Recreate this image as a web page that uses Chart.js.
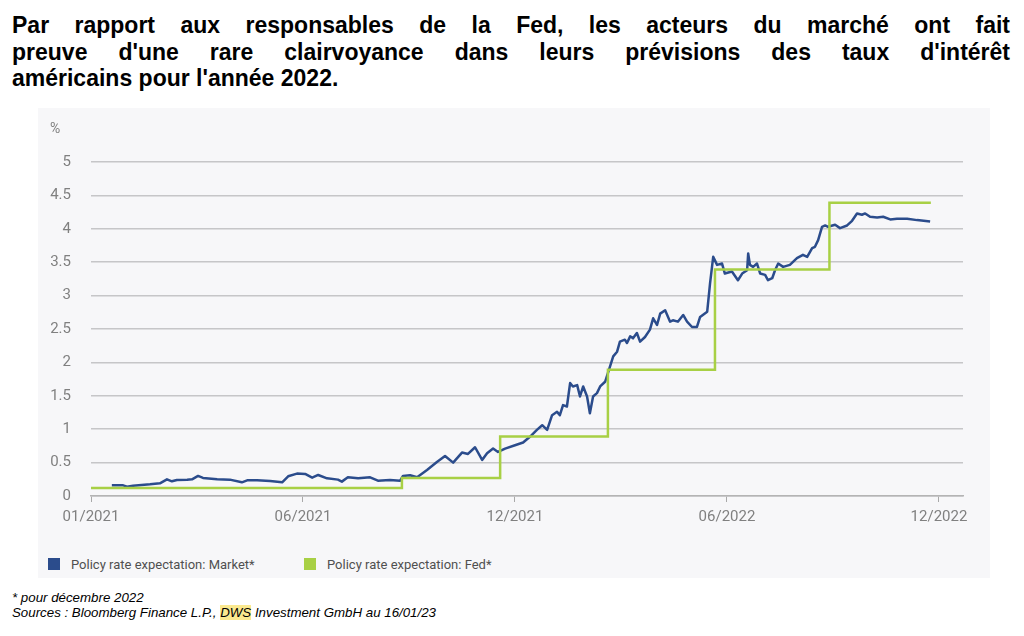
<!DOCTYPE html>
<html>
<head>
<meta charset="utf-8">
<script src="https://cdn.jsdelivr.net/npm/chart.js@4"></script>
<style>
body { margin: 0; width: 1024px; height: 636px; background: #fff; position: relative; overflow: hidden; }
#title { position: absolute; left: 12px; top: 12px; width: 998px; font: bold 23px "Liberation Sans", Arial, sans-serif; line-height: 26.5px; color: #000; }
#title .j { text-align: justify; text-align-last: justify; }
#box { position: absolute; left: 38px; top: 108px; width: 952px; height: 470px; background: #f7f7f9; }
#chart-wrap { position: absolute; left: 0; top: 0; width: 952px; height: 440px; }
#pct { position: absolute; left: 12px; top: 12px; font: 14px Roboto, sans-serif; color: #808080; }
#legend { position: absolute; left: 10px; top: 449px; font: 13px Roboto, sans-serif; color: #505050; }
#legend span.item { position: absolute; white-space: nowrap; top: 0; }
#legend i { display: inline-block; width: 12px; height: 12px; vertical-align: -1px; margin-right: 11px; }
#notes { position: absolute; left: 12px; top: 591px; font: italic 13.3px "Liberation Sans", Arial, sans-serif; line-height: 14.5px; color: #000; }
#notes mark { background: #fbe98f; color: #000; }
</style>
</head>
<body>
<div id="title">
  <div class="j">Par rapport aux responsables de la Fed, les acteurs du marché ont fait</div>
  <div class="j">preuve d'une rare clairvoyance dans leurs prévisions des taux d'intérêt</div>
  <div>américains pour l'année 2022.</div>
</div>
<div id="box">
  <div id="chart-wrap"><canvas id="result-chart" width="952" height="440"></canvas></div>
  <div id="pct">%</div>
  <div id="legend">
    <span class="item" style="left:0"><i style="background:#2b4c8c"></i>Policy rate expectation: Market*</span>
    <span class="item" style="left:256px"><i style="background:#a8d045"></i>Policy rate expectation: Fed*</span>
  </div>
</div>
<div id="notes">* pour décembre 2022<br>Sources : Bloomberg Finance L.P., <mark>DWS</mark> Investment GmbH au 16/01/23</div>

<script>
// x values are months since 01/2021
const xTickLabels = ['01/2021', '06/2021', '12/2021', '06/2022', '12/2022'];
const xTickValues = [0, 6, 12, 18, 24];

const marketX = [0.59, 0.91, 1.02, 1.19, 1.67, 1.95, 2.15, 2.29, 2.43, 2.72, 2.86, 3.03, 3.17, 3.57, 3.93, 4.27, 4.42, 4.70, 5.07, 5.41,
    5.58, 5.83, 6.06, 6.26, 6.43, 6.68, 6.99, 7.10, 7.27, 7.56, 7.90, 8.12, 8.46, 8.75, 8.83, 9.03, 9.23, 9.51, 9.79, 10.02,
    10.25, 10.50, 10.67, 10.87, 11.07, 11.21, 11.38, 11.52, 11.72, 12.00, 12.23, 12.43, 12.62, 12.77, 12.91, 13.05, 13.19, 13.27, 13.36, 13.47,
    13.56, 13.64, 13.76, 13.84, 13.93, 14.04, 14.12, 14.21, 14.32, 14.41, 14.55, 14.63, 14.78, 14.89, 14.97, 15.11, 15.17, 15.26, 15.34, 15.45,
    15.54, 15.68, 15.82, 15.91, 16.02, 16.11, 16.25, 16.39, 16.47, 16.61, 16.76, 16.87, 17.01, 17.15, 17.24, 17.44, 17.52, 17.61, 17.72, 17.86,
    17.94, 18.14, 18.31, 18.43, 18.57, 18.60, 18.65, 18.74, 18.85, 18.94, 19.08, 19.16, 19.28, 19.36, 19.45, 19.59, 19.78, 19.98, 20.15, 20.27,
    20.41, 20.49, 20.58, 20.69, 20.78, 20.86, 21.06, 21.20, 21.40, 21.54, 21.68, 21.82, 21.91, 22.05, 22.25, 22.42, 22.62, 22.81, 23.10, 23.38,
    23.75];
const marketY = [0.16, 0.16, 0.14, 0.155, 0.175, 0.19, 0.25, 0.22, 0.24, 0.245, 0.25, 0.30, 0.27, 0.25, 0.245, 0.205, 0.235, 0.235, 0.225, 0.205,
    0.295, 0.335, 0.33, 0.275, 0.315, 0.265, 0.245, 0.215, 0.28, 0.265, 0.28, 0.23, 0.24, 0.23, 0.30, 0.31, 0.28, 0.39, 0.51, 0.60,
    0.50, 0.65, 0.63, 0.73, 0.54, 0.64, 0.71, 0.66, 0.71, 0.76, 0.80, 0.89, 0.99, 1.06, 0.99, 1.21, 1.26, 1.21, 1.36, 1.34,
    1.69, 1.64, 1.66, 1.49, 1.64, 1.49, 1.24, 1.49, 1.54, 1.64, 1.71, 1.84, 2.09, 2.16, 2.31, 2.34, 2.29, 2.39, 2.36, 2.44,
    2.31, 2.38, 2.49, 2.66, 2.56, 2.73, 2.78, 2.61, 2.63, 2.61, 2.71, 2.61, 2.53, 2.53, 2.68, 2.76, 3.18, 3.58, 3.46, 3.48,
    3.33, 3.36, 3.23, 3.33, 3.38, 3.63, 3.46, 3.43, 3.48, 3.33, 3.31, 3.23, 3.26, 3.38, 3.48, 3.43, 3.46, 3.56, 3.61, 3.58,
    3.71, 3.73, 3.83, 4.03, 4.05, 4.03, 4.06, 4.01, 4.05, 4.12, 4.23, 4.21, 4.23, 4.18, 4.17, 4.18, 4.14, 4.15, 4.15, 4.13,
    4.11];

const fedX = [0, 8.8, 11.58, 14.63, 17.66, 20.9, 23.77];
const fedY = [0.12, 0.27, 0.89, 1.89, 3.39, 4.39, 4.39];

const gridColor = '#c6c6c8';
const labelColor = '#808080';

const ctx = document.getElementById('result-chart').getContext('2d');

window.myChart = new Chart(ctx, {
    type: 'line',
    data: {
        datasets: [{
            label: 'Policy rate expectation: Fed*',
            data: fedX.map((x, i) => ({ x: x, y: fedY[i] })),
            borderColor: '#a8d045',
            borderWidth: 2.5,
            stepped: true,
            pointRadius: 0,
            fill: false
        }, {
            label: 'Policy rate expectation: Market*',
            data: marketX.map((x, i) => ({ x: x, y: marketY[i] })),
            borderColor: '#2b4c8c',
            borderWidth: 2.5,
            borderJoinStyle: 'round',
            pointRadius: 0,
            tension: 0,
            fill: false
        }]
    },
    options: {
        responsive: false,
        animation: false,
        layout: { padding: { top: 54, right: 27, left: 0, bottom: 0 } },
        plugins: {
            legend: { display: false },
            tooltip: { enabled: false }
        },
        scales: {
            x: {
                type: 'linear',
                min: 0,
                max: 24.68,
                afterBuildTicks: function(scale) {
                    scale.ticks = xTickValues.map(v => ({ value: v }));
                },
                afterFit: function(scale) { scale.height = 52; },
                grid: { drawOnChartArea: false, drawTicks: true, tickLength: 6, color: '#a9a9a9', lineWidth: 1 },
                border: { display: true, color: '#b4b4b4', width: 1.5 },
                ticks: {
                    autoSkip: false,
                    maxRotation: 0,
                    padding: 6,
                    color: labelColor,
                    font: { family: 'Roboto', size: 15 },
                    callback: function(value) {
                        return xTickLabels[xTickValues.indexOf(value)];
                    }
                }
            },
            y: {
                min: 0,
                max: 5,
                afterFit: function(scale) { scale.width = 53; },
                grid: { drawTicks: false, color: gridColor, lineWidth: 1.5 },
                border: { display: false },
                ticks: {
                    stepSize: 0.5,
                    padding: 20,
                    color: labelColor,
                    font: { family: 'Roboto', size: 15 },
                    callback: function(value) { return value.toString(); }
                }
            }
        }
    }
});
</script>
</body>
</html>
